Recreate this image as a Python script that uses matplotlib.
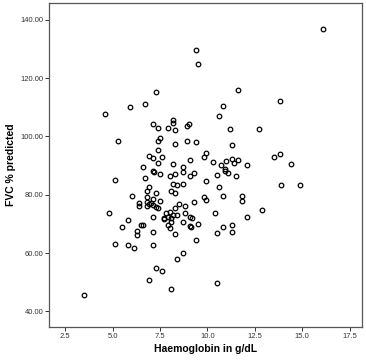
import matplotlib
matplotlib.use('Agg')
import matplotlib.pyplot as plt

# haemoglobin (g/dL)
haemoglobin = [16.1, 9.4, 9.5, 11.6, 7.3, 13.8, 5.9, 10.8, 6.7, 4.6,
               10.6, 8.2, 8.2, 7.1, 7.4, 7.9, 8.3, 8.9, 9.0, 11.2,
               12.7, 5.3, 7.5, 7.4, 8.3, 8.9, 9.4, 11.3, 7.4, 6.9,
               7.1, 7.6, 9.9, 9.8, 13.5, 13.8, 7.4, 8.2, 6.6, 9.1,
               10.3, 11.0, 11.3, 11.6, 11.4, 10.7, 12.1, 14.4, 8.7, 8.7,
               7.1, 7.2, 7.5, 8.0, 8.3, 10.9, 10.95, 11.1, 11.5, 9.3,
               9.1, 10.5, 5.1, 6.7, 9.9, 8.7, 10.6, 9.8, 9.9, 10.8,
               11.8, 11.8, 9.3, 8.5, 8.8, 12.9, 10.4, 8.8, 9.1, 9.2,
               12.1, 8.7, 9.1, 9.15, 9.5, 10.8, 11.3, 11.3, 10.5, 9.4,
               8.7, 10.5, 13.9, 14.9, 6.9, 6.8, 8.2, 8.4, 8.1, 8.3,
               6.0, 6.8, 7.3, 7.1, 6.8, 7.0, 6.9, 6.4, 6.4, 6.8,
               7.1, 7.5, 7.3, 7.4, 8.3, 4.8, 7.8, 8.0, 8.2, 7.7,
               7.9, 7.7, 8.1, 7.1, 8.4, 5.8, 5.5, 6.5, 6.6, 8.1,
               7.9, 8.0, 6.3, 6.3, 7.1, 8.3, 5.1, 5.8, 6.1, 7.1,
               8.4, 7.3, 7.6, 6.9, 8.1, 3.5]

# FVC % predicted
fvc = [136.9, 129.5, 124.9, 116.1, 115.4, 112.1, 110.2, 110.4, 111.3, 107.7,
       107.0, 105.8, 104.6, 104.3, 102.9, 102.8, 102.2, 103.7, 104.2, 102.4,
       102.4, 98.5, 99.3, 98.3, 97.4, 98.5, 98.1, 97.0, 95.5, 93.4,
       92.5, 93.1, 94.2, 93.1, 93.1, 94.1, 90.9, 90.6, 89.5, 91.8,
       91.4, 91.7, 92.4, 92.0, 91.0, 90.2, 90.3, 90.6, 89.5, 87.7,
       88.0, 87.7, 87.0, 86.5, 87.0, 88.7, 88.2, 87.6, 86.3, 87.4,
       86.6, 86.9, 85.2, 85.8, 84.6, 83.8, 82.7, 79.1, 78.3, 79.5,
       79.6, 77.8, 77.4, 76.7, 76.3, 74.7, 73.7, 73.7, 72.4, 72.0,
       72.5, 70.7, 69.2, 69.0, 70.1, 69.0, 69.5, 67.2, 66.8, 64.4,
       60.0, 49.6, 83.5, 83.4, 82.8, 81.4, 83.6, 83.3, 81.2, 80.7,
       79.4, 79.1, 80.6, 78.4, 77.6, 77.3, 76.7, 77.1, 76.0, 76.3,
       76.6, 77.7, 75.8, 75.4, 75.4, 73.7, 73.6, 74.0, 73.2, 72.1,
       72.5, 71.7, 71.9, 72.5, 73.2, 71.2, 69.0, 69.7, 69.5, 70.6,
       69.7, 68.7, 67.4, 66.3, 67.2, 66.4, 63.1, 62.7, 61.8, 62.8,
       58.0, 55.0, 53.7, 50.7, 47.7, 45.6]

x_ticks = [2.5, 5.0, 7.5, 10.0, 12.5, 15.0, 17.5]
y_ticks = [40, 60, 80, 100, 120, 140]

plt.rcParams['font.family'] = ['Liberation Sans', 'DejaVu Sans']

fig = plt.figure(figsize=(3.66, 3.63), dpi=100)
ax = fig.add_axes([0.135, 0.099, 0.854, 0.892])

# open circles, one per patient
ax.plot(haemoglobin, fvc, linestyle='none', marker='o', markersize=3.3,
        markerfacecolor='none', markeredgecolor='black', markeredgewidth=0.9)

ax.set_xlim(1.66, 18.15)
ax.set_ylim(34.6, 145.7)
ax.set_xticks(x_ticks)
ax.set_xticklabels(['%.1f' % t for t in x_ticks])
ax.set_yticks(y_ticks)
ax.set_yticklabels(['%.2f' % t for t in y_ticks])
ax.tick_params(direction='out', length=3, width=0.7, labelsize=5.5,
               colors='#333333', pad=1.5)

for s in ax.spines.values():
    s.set_color('#555555')
    s.set_linewidth(0.9)

ax.set_xlabel('Haemoglobin in g/dL', fontsize=7.5, fontweight='bold', labelpad=3)
ax.set_ylabel('FVC % predicted', fontsize=7.5, fontweight='bold', labelpad=3)

fig.savefig('out.png', dpi=100)
